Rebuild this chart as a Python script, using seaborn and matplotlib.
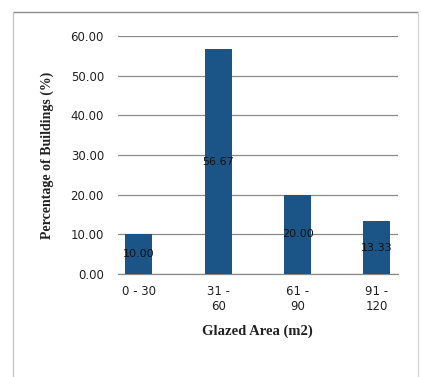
import matplotlib
matplotlib.use("Agg")
import matplotlib.pyplot as plt
from matplotlib.patches import Rectangle
from matplotlib.lines import Line2D
import seaborn as sns
import pandas as pd

# Share of buildings by glazed area band
categories = ["0 - 30", "31 -\n60", "61 -\n90", "91 -\n120"]
percentages = [10.00, 56.67, 20.00, 13.33]
y_ticks = [0, 10, 20, 30, 40, 50, 60]

df = pd.DataFrame({"area": categories, "pct": percentages})

sns.set_theme(style="white")
plt.rcParams["font.family"] = ["DejaVu Sans"]

fig = plt.figure(figsize=(4.21, 3.77), dpi=100)
ax = fig.add_axes([0.280, 0.273, 0.665, 0.632])

# Outer chart frame: darker top edge, faint sides
x0, x1 = 13 / 421, 418 / 421
y_top = 1 - 12 / 377
fig.lines.append(Line2D([x0, x1], [y_top, y_top], transform=fig.transFigure,
                        color="#8c8c8c", linewidth=1.0))
fig.lines.append(Line2D([x0, x0], [0, y_top], transform=fig.transFigure,
                        color="#c4c4c4", linewidth=0.9))
fig.lines.append(Line2D([x1, x1], [0, y_top], transform=fig.transFigure,
                        color="#d4d4d4", linewidth=0.9))

sns.barplot(data=df, x="area", y="pct", color="#1b5486", saturation=1,
            width=0.34, linewidth=0, ax=ax, zorder=3)

ax.set_ylim(0, 60)
ax.set_xlim(-0.265, 3.265)
ax.set_yticks(y_ticks)
ax.set_yticklabels([f"{v:.2f}" for v in y_ticks], fontsize=8.5, color="#222222")
ax.tick_params(axis="x", labelsize=8.5, colors="#222222", length=0, pad=8)
ax.tick_params(axis="y", length=0, pad=10)

ax.yaxis.grid(True, color="#8a8a8a", linewidth=0.9, zorder=0)
ax.xaxis.grid(False)
for side in ["top", "right", "left"]:
    ax.spines[side].set_visible(False)
ax.spines["bottom"].set_color("#8a8a8a")
ax.spines["bottom"].set_linewidth(0.9)

ax.set_xlabel("Glazed Area (m2)", family="Liberation Serif", fontweight="bold",
              fontsize=10.5, color="#222222", labelpad=8)
ax.set_ylabel("Percentage of Buildings (%)", family="Liberation Serif",
              fontweight="bold", fontsize=10, color="#222222", labelpad=12)

ax.bar_label(ax.containers[0], labels=[f"{v:.2f}" for v in percentages],
             label_type="center", fontsize=8, color="#111111")

fig.savefig("out.png", dpi=100, facecolor="white")
